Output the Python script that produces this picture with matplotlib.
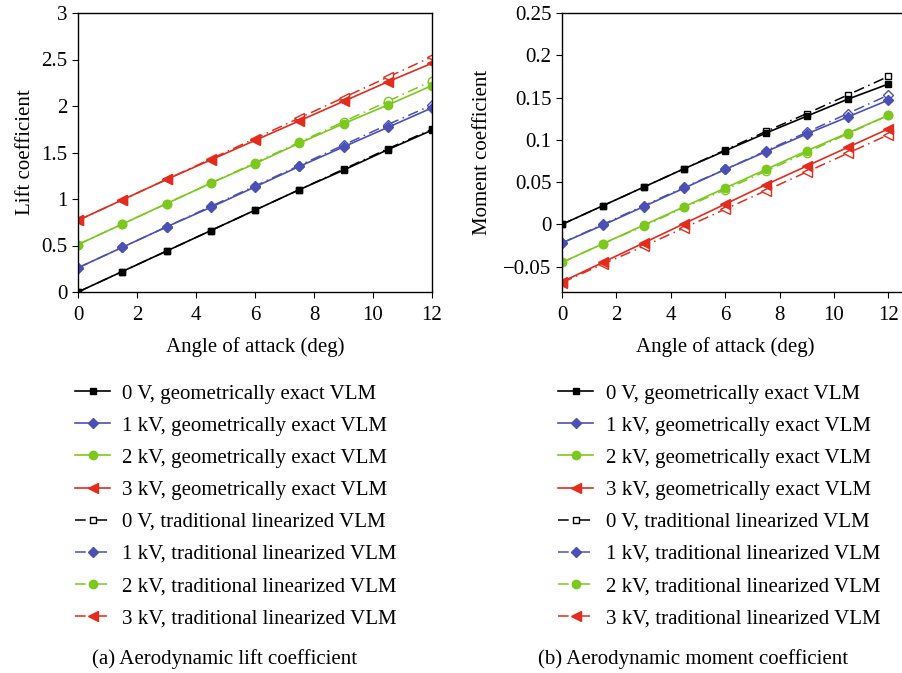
import numpy as np
import matplotlib
matplotlib.use("Agg")
import matplotlib.pyplot as plt
from matplotlib.lines import Line2D

plt.rcParams['font.family'] = ['Liberation Serif', 'DejaVu Serif']
plt.rcParams['font.size'] = 15

# angle of attack (deg)
aoa = [0, 1.5, 3, 4.5, 6, 7.5, 9, 10.5, 12]

# lift coefficient, geometrically exact VLM
cl_exact_0 = [0.00, 0.22, 0.44, 0.66, 0.88, 1.10, 1.31, 1.53, 1.74]
cl_exact_1 = [0.26, 0.48, 0.70, 0.91, 1.13, 1.35, 1.56, 1.77, 1.98]
cl_exact_2 = [0.51, 0.73, 0.95, 1.17, 1.38, 1.60, 1.81, 2.01, 2.22]
cl_exact_3 = [0.77, 0.99, 1.21, 1.42, 1.63, 1.84, 2.05, 2.26, 2.46]
# lift coefficient, traditional linearized VLM
cl_lin_0 = [0.00, 0.22, 0.44, 0.66, 0.88, 1.10, 1.32, 1.54, 1.75]
cl_lin_1 = [0.26, 0.48, 0.70, 0.92, 1.14, 1.36, 1.58, 1.80, 2.01]
cl_lin_2 = [0.51, 0.73, 0.95, 1.17, 1.39, 1.61, 1.83, 2.05, 2.27]
cl_lin_3 = [0.77, 0.99, 1.21, 1.43, 1.65, 1.87, 2.09, 2.31, 2.53]

# moment coefficient, geometrically exact VLM
cm_exact_0 = [0.000, 0.022, 0.044, 0.066, 0.087, 0.108, 0.128, 0.148, 0.166]
cm_exact_1 = [-0.022, -0.001, 0.021, 0.043, 0.065, 0.086, 0.107, 0.127, 0.147]
cm_exact_2 = [-0.045, -0.023, -0.001, 0.021, 0.043, 0.065, 0.087, 0.108, 0.129]
cm_exact_3 = [-0.068, -0.045, -0.022, 0.001, 0.024, 0.047, 0.069, 0.091, 0.113]
# moment coefficient, traditional linearized VLM
cm_lin_0 = [0.000, 0.022, 0.044, 0.066, 0.088, 0.110, 0.131, 0.153, 0.175]
cm_lin_1 = [-0.022, 0.000, 0.022, 0.044, 0.065, 0.087, 0.109, 0.131, 0.153]
cm_lin_2 = [-0.045, -0.023, -0.002, 0.020, 0.041, 0.063, 0.085, 0.107, 0.129]
cm_lin_3 = [-0.069, -0.047, -0.026, -0.004, 0.018, 0.040, 0.062, 0.084, 0.106]

voltages = ['0 V', '1 kV', '2 kV', '3 kV']
colors = ['black', '#4b50b4', '#7cc81e', '#e32b1e']
markers = ['s', 'D', 'o', '<']
msizes = [5, 5, 6, 7]
dashdot = (0, (7, 3, 1, 3))

fig = plt.figure(figsize=(9.02, 6.73), dpi=100)
ax1 = fig.add_axes([78/902, 1-292/673, (432-78)/902, (292-13)/673])
ax2 = fig.add_axes([562/902, 1-292/673, (902-562)/902, (292-13)/673])


def draw(ax, exact, lin):
    for i in range(4):
        ax.plot(aoa, lin[i], linestyle=dashdot, color=colors[i], lw=1.1,
                marker=markers[i], ms=msizes[i], mfc='white', mec=colors[i], mew=1.0)
    for i in range(4):
        ax.plot(aoa, exact[i], '-', color=colors[i], lw=1.2,
                marker=markers[i], ms=msizes[i], mfc=colors[i], mec=colors[i])
    ax.tick_params(direction='out', length=4, width=0.8, labelsize=15)
    ax.tick_params(axis='x', pad=6)
    ax.set_xlabel('Angle of attack (deg)', fontsize=15, labelpad=9)
    ax.set_xticks([0, 2, 4, 6, 8, 10, 12])
    for s in ax.spines.values():
        s.set_linewidth(1.0)


draw(ax1, [cl_exact_0, cl_exact_1, cl_exact_2, cl_exact_3],
     [cl_lin_0, cl_lin_1, cl_lin_2, cl_lin_3])
ax1.set_xlim(0, 12)
ax1.set_ylim(0, 3)
ax1.set_yticks([0, 0.5, 1, 1.5, 2, 2.5, 3])
ax1.set_yticklabels(['0', '0.5', '1', '1.5', '2', '2.5', '3'])
ax1.set_ylabel('Lift coefficient', fontsize=15, labelpad=5)

draw(ax2, [cm_exact_0, cm_exact_1, cm_exact_2, cm_exact_3],
     [cm_lin_0, cm_lin_1, cm_lin_2, cm_lin_3])
ax2.set_xlim(0, 12.5)
ax2.set_ylim(-0.08, 0.25)
ax2.set_yticks([-0.05, 0, 0.05, 0.1, 0.15, 0.2, 0.25])
ax2.set_yticklabels(['\u22120.05', '0', '0.05', '0.1', '0.15', '0.2', '0.25'])
ax2.spines['right'].set_visible(False)
ax2.xaxis.set_label_coords(12/12.5/2, -0.16)
ax2.set_ylabel('Moment coefficient', fontsize=15, labelpad=8)

# legend handles (filled markers, open square for 0 V linearized)
handles = []
labels = []
for i in range(4):
    handles.append(Line2D([], [], color=colors[i], lw=1.2, marker=markers[i],
                          ms=msizes[i], mfc=colors[i], mec=colors[i]))
    labels.append(voltages[i] + ', geometrically exact VLM')
for i in range(4):
    face = 'white' if i == 0 else colors[i]
    handles.append(Line2D([], [], color=colors[i], lw=1.1, linestyle=dashdot,
                          marker=markers[i], ms=msizes[i], mfc=face, mec=colors[i]))
    labels.append(voltages[i] + ', traditional linearized VLM')

for x0 in [75/902, 558/902]:
    fig.legend(handles, labels, loc='upper left', bbox_to_anchor=(x0, 1-384/673),
               frameon=False, fontsize=15, handlelength=1.7, handletextpad=0.58,
               labelspacing=0.6, borderpad=0, borderaxespad=0)

fig.text(225/902, 1-659/673, '(a) Aerodynamic lift coefficient', ha='center', va='center', fontsize=15)
fig.text(693/902, 1-659/673, '(b) Aerodynamic moment coefficient', ha='center', va='center', fontsize=15)

fig.savefig('out.png', dpi=100)
